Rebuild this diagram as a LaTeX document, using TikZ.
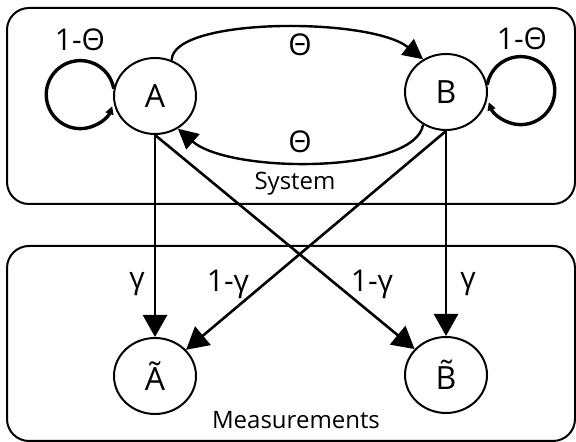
\documentclass[tikz,border=0pt]{standalone}
\usepackage{fontspec}
\setmainfont{Open Sans}
\usepackage{tikz}
\usetikzlibrary{arrows.meta,shapes.geometric,positioning,calc}
\tikzset{
  hmstate/.style={
    ellipse, draw=black, fill=white, line width=1pt,
    minimum width=41pt, minimum height=38pt, inner sep=0pt,
    font=\fontsize{16}{18}\selectfont
  },
  hmbox/.style={draw=black, line width=1pt, rounded corners=11pt},
  hmedge/.style={-{Triangle[length=11pt,width=12pt]}, line width=1.3pt},
  hmarc/.style={-{Triangle[length=10pt,width=10pt]}, line width=1.2pt},
  hmloop/.style={-{Triangle[length=4pt,width=4pt]}, line width=1.7pt},
  hmlabel/.style={font=\fontsize{15}{17}\selectfont, inner sep=0pt},
  hmnote/.style={font=\fontsize{12}{14}\selectfont, inner sep=0pt}
}

\begin{document}
\begin{tikzpicture}[x=0.5pt,y=0.5pt]
  \useasboundingbox (0,0) rectangle (576,442);

  % System
  \draw[hmbox] (7,238) rectangle (575,434);
  \node[hmnote] (sys) at (295,258) {System};

  \node[hmstate] (A) at (155,346) {A};
  \node[hmstate] (B) at (446,350) {B};

  \draw[hmarc] (A.65) .. controls (172,425) and (370,425) .. (B.125);
  \draw[hmarc] (B.235) .. controls (415,268) and (230,268) .. (A.305);
  \node[hmlabel] (ab) at (300,397) {Θ};
  \node[hmlabel] (ba) at (300,300) {Θ};

  \draw[hmloop] (A.170) arc[start angle=10, end angle=340, radius=17pt];
  \draw[hmloop] (B.10) arc[start angle=170, end angle=-160, radius=17pt];
  \node[hmlabel] (aa) at (80,402) {1-Θ};
  \node[hmlabel] (bb) at (522,403) {1-Θ};

  % Measurements
  \draw[hmbox] (7,1) rectangle (575,196);
  \node[hmnote] (meas) at (296,22) {Measurements};

  \node[hmstate] (At) at (155,66) {Ã};
  \node[hmstate] (Bt) at (446,67) {\accent"02DC B};

  \draw[hmedge] (A) -- (At);
  \draw[hmedge] (A.south) -- (Bt);
  \draw[hmedge] (B.south) -- (At);
  \draw[hmedge] (B) -- (Bt);

  \node[hmlabel] (gA) at (137,158) {γ};
  \node[hmlabel] (gBA) at (228,158) {1-γ};
  \node[hmlabel] (gAB) at (372,158) {1-γ};
  \node[hmlabel] (gB) at (468,158) {γ};
\end{tikzpicture}
\end{document}
